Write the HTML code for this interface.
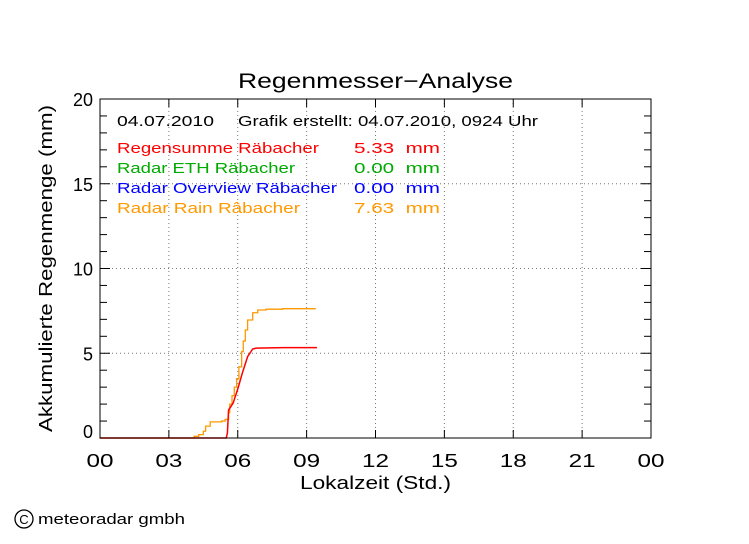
<!DOCTYPE html>
<html><head><meta charset="utf-8"><style>
body{margin:0;background:#fff}
svg text{font-family:"Liberation Sans",sans-serif}
</style></head><body>
<svg id="c" width="749" height="539" viewBox="0 0 749 539">
<rect width="749" height="539" fill="#fff"/>
<g id="grid"></g>
<g id="marks"></g>
<g id="axes"></g>
<text x="238" y="88" font-size="21" textLength="275" lengthAdjust="spacingAndGlyphs">Regenmesser−Analyse</text>
<text x="300" y="489" font-size="18" textLength="151" lengthAdjust="spacingAndGlyphs">Lokalzeit (Std.)</text>
<text transform="translate(52,432) rotate(-90)" font-size="18" textLength="327" lengthAdjust="spacingAndGlyphs">Akkumulierte Regenmenge (mm)</text>
<g font-size="15">
<text x="117" y="126" textLength="97" lengthAdjust="spacingAndGlyphs">04.07.2010</text>
<text x="238" y="126" textLength="300" lengthAdjust="spacingAndGlyphs">Grafik erstellt: 04.07.2010, 0924 Uhr</text>
<text x="117" y="153" fill="#ff0000" textLength="202" lengthAdjust="spacingAndGlyphs">Regensumme Räbacher</text>
<text x="354" y="153" fill="#ff0000" textLength="86" lengthAdjust="spacingAndGlyphs">5.33 &#160;mm</text>
<text x="117" y="173" fill="#00aa00" textLength="178" lengthAdjust="spacingAndGlyphs">Radar ETH Räbacher</text>
<text x="354" y="173" fill="#00aa00" textLength="86" lengthAdjust="spacingAndGlyphs">0.00 &#160;mm</text>
<text x="117" y="193" fill="#0000ff" textLength="220" lengthAdjust="spacingAndGlyphs">Radar Overview Räbacher</text>
<text x="354" y="193" fill="#0000ff" textLength="86" lengthAdjust="spacingAndGlyphs">0.00 &#160;mm</text>
<text x="117" y="213" fill="#ff9900" textLength="183" lengthAdjust="spacingAndGlyphs">Radar Rain Râbacher</text>
<text x="354" y="213" fill="#ff9900" textLength="86" lengthAdjust="spacingAndGlyphs">7.63 &#160;mm</text>
</g>
<g>
<circle cx="24" cy="519" r="9" fill="none" stroke="#000" stroke-width="1.3"/>
<text x="24" y="524" font-size="13" text-anchor="middle">C</text>
<text x="38" y="524" font-size="15" textLength="147" lengthAdjust="spacingAndGlyphs">meteoradar gmbh</text>
</g>
</svg>
<script>
const xTicks=[0,3,6,9,12,15,18,21,24];
const xTickLabels=["00","03","06","09","12","15","18","21","00"];
const yTicks=[0,5,10,15,20];
const gaugeHours=[0,5.5,5.55,5.6,5.8,6.0,6.2,6.43,6.65,6.8,8.0,9.45];
const gaugeMm=[0,0,0.3,1.65,2.06,2.89,3.83,4.8,5.25,5.3,5.33,5.33];
const rainHours=[0,3.9,4.1,4.3,4.5,4.6,4.8,5.3,5.45,5.6,5.65,5.75,5.85,5.95,6.05,6.17,6.24,6.33,6.43,6.65,6.87,7.23,7.95,9.4];
const rainMm=[0,0,0.1,0.2,0.4,0.7,0.95,1.0,1.1,1.5,2.0,2.5,3.0,3.5,4.2,5.1,5.72,6.37,6.96,7.39,7.55,7.6,7.63,7.63];
const X0=100,X1=651,Y0=438,Y1=99;
const sx=h=>X0+h/24*(X1-X0), sy=v=>Y0-v/20*(Y0-Y1);
const NS="http://www.w3.org/2000/svg";
function mk(t,a,p){const e=document.createElementNS(NS,t);for(const k in a)e.setAttribute(k,a[k]);p.appendChild(e);return e;}
const grid=document.getElementById('grid'),axes=document.getElementById('axes'),marks=document.getElementById('marks');
xTicks.forEach((t,i)=>{const x=sx(t);
 if(i>0&&i<xTicks.length-1){const g=mk('line',{x1:x,x2:x,y1:Y1,y2:Y0,stroke:'#777','stroke-dasharray':'1,3'},grid);
 
 }
 mk('line',{x1:x,x2:x,y1:Y0,y2:Y0-8,stroke:'#000'},axes);
 mk('line',{x1:x,x2:x,y1:Y1,y2:Y1+8,stroke:'#000'},axes);
 const l=mk('text',{x:x,y:467,'font-size':18,'text-anchor':'middle',textLength:27,lengthAdjust:'spacingAndGlyphs'},axes);l.textContent=xTickLabels[i];
 
 
});
for(let v=0;v<=20;v++){const y=sy(v);const major=v%5==0;
 mk('line',{x1:X0,x2:X0+(major?10:7),y1:y,y2:y,stroke:'#000'},axes);
 mk('line',{x1:X1,x2:X1-(major?10:7),y1:y,y2:y,stroke:'#000'},axes);}
yTicks.forEach(v=>{const y=sy(v);
 if(v>0&&v<20){const g=mk('line',{x1:X0,x2:X1,y1:y,y2:y,stroke:'#777','stroke-dasharray':'1,3'},grid);
 
 }
 const l=mk('text',{x:93,y:y+(v==0?0:7),'font-size':18,'text-anchor':'end'},axes);l.textContent=v;
 
 
});
const fr=mk('rect',{x:X0,y:Y1,width:X1-X0,height:Y0-Y1,fill:'none',stroke:'#000'},axes);


function step(hs,vs){let d='M'+sx(hs[0])+','+sy(vs[0]);for(let i=1;i<hs.length;i++){d+='H'+sx(hs[i])+'V'+sy(vs[i]);}return d;}
function line(hs,vs){let d='M'+sx(hs[0])+','+sy(vs[0]);for(let i=1;i<hs.length;i++){d+='L'+sx(hs[i])+','+sy(vs[i]);}return d;}
const r=mk('path',{d:step(rainHours,rainMm),fill:'none',stroke:'#ff9900','stroke-width':1.3},marks);


const g=mk('path',{d:line(gaugeHours,gaugeMm),fill:'none',stroke:'#ff0000','stroke-width':1.5},marks);


</script>
</body></html>
